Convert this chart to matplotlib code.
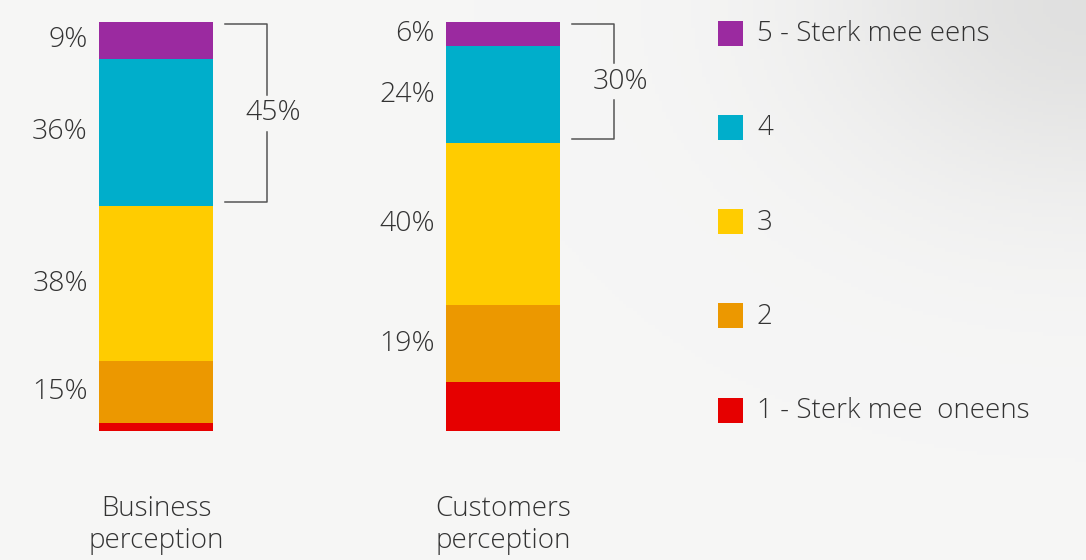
import numpy as np
import matplotlib.pyplot as plt
from matplotlib.patches import Rectangle

# data
categories = ["Business\nperception", "Customers\nperception"]
levels = ["1 - Sterk mee  oneens", "2", "3", "4", "5 - Sterk mee eens"]
business = [2, 15, 38, 36, 9]
customers = [12, 19, 40, 24, 6]
top2 = ["45%", "30%"]

colors = ["#e60000", "#ec9800", "#ffcc00", "#00aecb", "#9b2aa0"]
txt_color = "#333333"

plt.rcParams['font.family'] = ['Open Sans', 'DejaVu Sans']
plt.rcParams['font.size'] = 20

fig = plt.figure(figsize=(10.86, 5.6), dpi=100)

# soft grey background, a bit darker in the top right corner
bg = fig.add_axes([0, 0, 1, 1], zorder=-10)
xx, yy = np.meshgrid(np.linspace(0, 1, 300), np.linspace(0, 1, 160))
d = np.sqrt(((1 - xx) * 1.9) ** 2 + (yy * 1.3) ** 2)
shade = 0.965 - 0.085 * np.exp(-(d / 0.45) ** 2)
bg.imshow(np.dstack([shade, shade, shade * 0.998]), aspect='auto',
          extent=[0, 1, 0, 1], origin='upper')
bg.axis('off')

ax = fig.add_axes([0, 0.2304, 1, 0.7304])
ax.patch.set_alpha(0)
step = 347.0
ax.set_xlim(-156 / step, (1086 - 156) / step)
ax.set_ylim(0, 100)
width = 114 / step

data = [business, customers]
for xi, vals in enumerate(data):
    # rounded percentages, scale each bar to a full 100
    total = float(sum(vals))
    heights = [v / total * 100 for v in vals]
    bottom = 0
    for j, v in enumerate(vals):
        h = heights[j]
        ax.bar(xi, h, width=width, bottom=bottom, color=colors[j], linewidth=0)
        if j > 0:
            ax.annotate(f"{v}%", xy=(xi - width / 2, bottom + h / 2),
                        xytext=(-8, 0), textcoords='offset points',
                        ha='right', va='center', color=txt_color,
                        fontsize=20.5, fontweight='light')
        bottom += h

    # bracket around top two levels
    hi = 100 - 0.6
    lo = sum(heights[:3]) + 1.0
    x0 = xi + width / 2 + 12 / step
    x1 = x0 + 42 / step
    mid = (hi + lo) / 2
    gap = 4.5
    lc = "#555555"
    ax.plot([x0, x1, x1], [hi, hi, mid + gap], color=lc, lw=1.1)
    ax.plot([x1, x1, x0], [mid - gap, lo, lo], color=lc, lw=1.1)
    ax.text(x1 + 6 / step, mid, top2[xi], ha='center', va='center',
            color=txt_color, fontsize=20.5, fontweight='light')

ax.set_xticks([0, 1])
ax.set_xticklabels(categories, color=txt_color, linespacing=1.2,
                   fontsize=20, fontweight='light')
ax.tick_params(axis='x', length=0, pad=46)
ax.set_yticks([])
for s in ax.spines.values():
    s.set_visible(False)

# legend
W, H = 1086.0, 560.0
for i, j in enumerate(range(len(levels) - 1, -1, -1)):
    yc = 33 + i * 94.3
    fig.patches.append(Rectangle((718 / W, 1 - (yc + 12.5) / H), 25 / W, 25 / H,
                                 transform=fig.transFigure, color=colors[j],
                                 linewidth=0))
    fig.text(757 / W, 1 - (yc + 1) / H, levels[j], ha='left', va='center',
             color=txt_color, fontweight='light')

fig.savefig("out.png", dpi=100)
